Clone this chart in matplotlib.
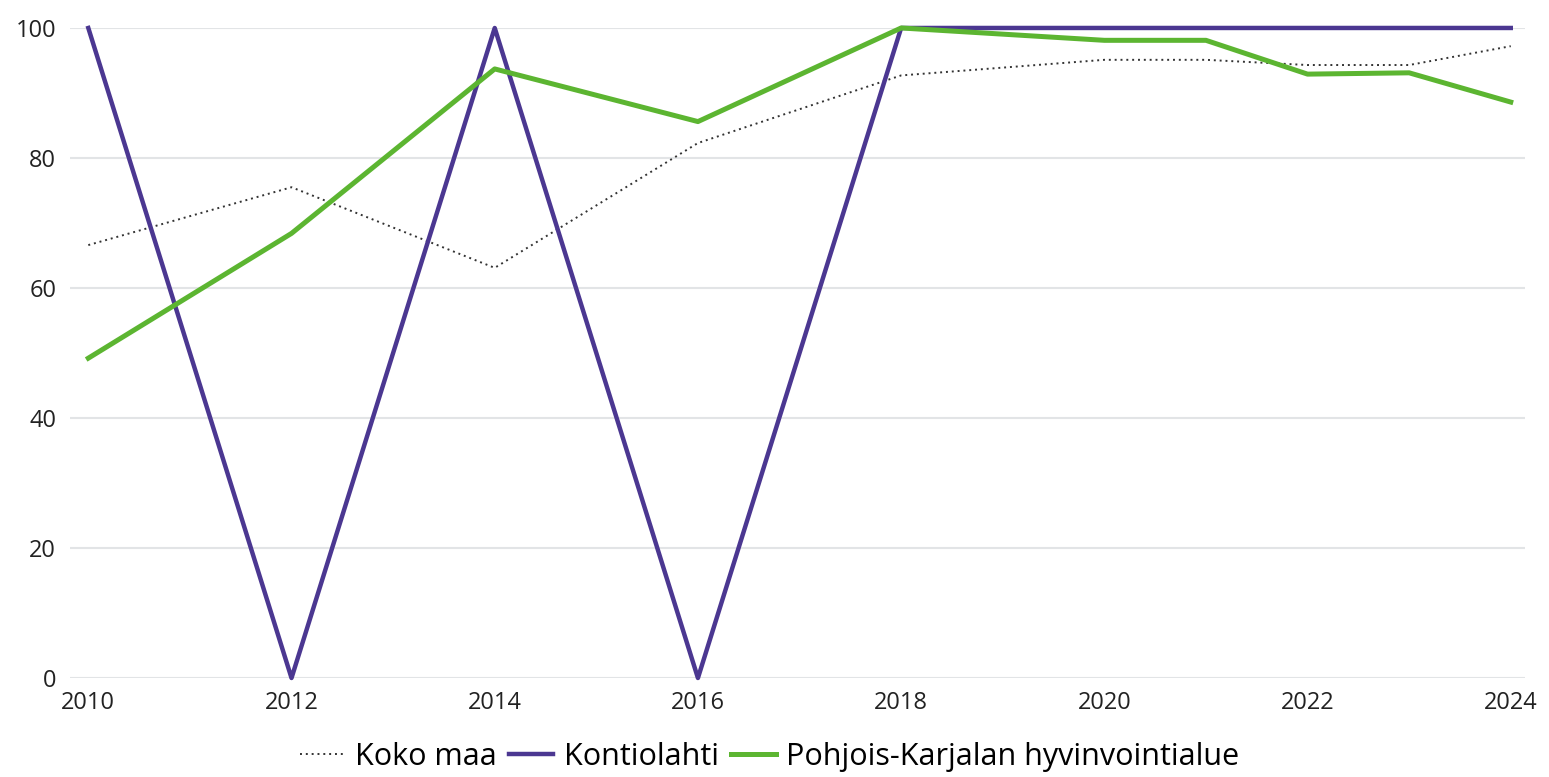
import matplotlib.pyplot as plt

plt.rcParams['font.family'] = ['Open Sans', 'DejaVu Sans']

# data
years = [2010, 2012, 2014, 2016, 2018, 2020, 2021, 2022, 2023, 2024]
koko_maa = [66.6, 75.5, 63.1, 82.3, 92.7, 95.1, 95.1, 94.3, 94.3, 97.2]
kontiolahti = [100, 0, 100, 0, 100, 100, 100, 100, 100, 100]
pohjois_karjala = [49.2, 68.4, 93.7, 85.6, 100, 98.1, 98.1, 92.9, 93.1, 88.6]

xticks = [2010, 2012, 2014, 2016, 2018, 2020, 2022, 2024]
yticks = [0, 20, 40, 60, 80, 100]

fig = plt.figure(figsize=(15.49, 7.77), dpi=100)
ax = fig.add_axes([0.0452, 0.1274, 0.9393, 0.8366])

ax.plot(years, koko_maa, color='#333333', linestyle=(0, (1, 2)), linewidth=1.4,
        label='Koko maa', clip_on=False, zorder=3)
ax.plot(years, kontiolahti, color='#4b3791', linewidth=3.2,
        label='Kontiolahti', clip_on=False, zorder=4)
ax.plot(years, pohjois_karjala, color='#5cb531', linewidth=3.6,
        label='Pohjois-Karjalan hyvinvointialue', clip_on=False, zorder=5)

ax.set_xlim(2009.82, 2024.14)
ax.set_ylim(0, 100)
ax.set_xticks(xticks)
ax.set_yticks(yticks)
ax.tick_params(axis='both', length=0, labelsize=17, colors='#222222')
ax.tick_params(axis='x', pad=9)
ax.tick_params(axis='y', pad=10)
ax.grid(True, axis='y', color='#e2e4e6', linewidth=1.5)
ax.set_axisbelow(True)
for s in ax.spines.values():
    s.set_visible(False)

fig.legend(loc='center', bbox_to_anchor=(0.497, 0.0257), ncol=3, frameon=False,
           fontsize=22, handlelength=1.45, handletextpad=0.35, columnspacing=0.4,
           borderaxespad=0, borderpad=0)

fig.savefig('out.png', dpi=100)
